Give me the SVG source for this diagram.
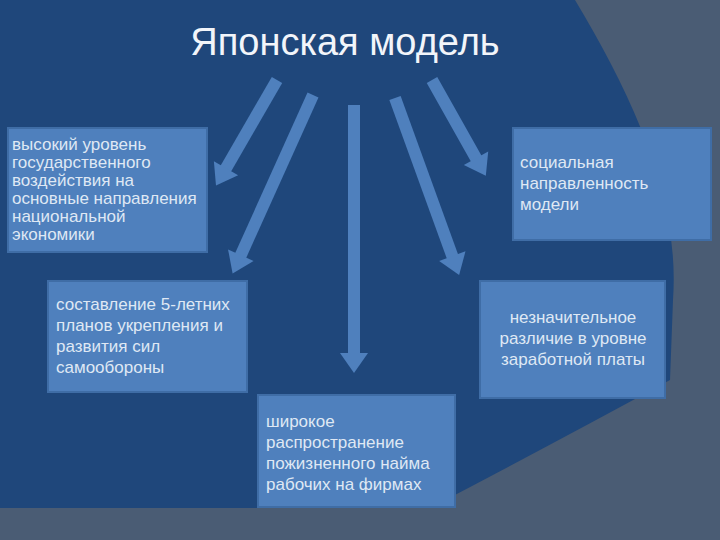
<svg xmlns="http://www.w3.org/2000/svg" width="720" height="540" viewBox="0 0 720 540">
<defs>
<style>
.box{fill:#4f80bd;stroke:#3f6da6;stroke-width:2}
.t{font-family:"Liberation Sans",Arial,sans-serif;font-size:17px;fill:#dfe8f4}
.a{stroke:#4f80bd;stroke-width:12;fill:none;marker-end:url(#ah)}
</style>
<marker id="ah" markerUnits="userSpaceOnUse" markerWidth="32" markerHeight="32" viewBox="0 0 20 32" refX="2" refY="16" orient="auto">
<polygon points="0,2 20,16 0,30" fill="#4f80bd"/>
</marker>
</defs>
<rect width="720" height="540" fill="#4a5c74"/>
<path d="M0,0 H575 C635,100 680,200 673,300 L670,380 Q560,440 430,508 H0 Z" fill="#1f477b"/>
<text x="345" y="55" text-anchor="middle" font-family="Liberation Sans,Arial,sans-serif" font-size="38" fill="#f2f5fa">Японская модель</text>
<g id="connectors">
<line class="a" x1="277" y1="80" x2="225" y2="170"/>
<line class="a" x1="313" y1="95" x2="240" y2="257"/>
<line class="a" x1="354" y1="105" x2="354" y2="355"/>
<line class="a" x1="395" y1="98" x2="453" y2="258"/>
<line class="a" x1="432" y1="80" x2="477" y2="160"/>
</g>
<g id="n1"><rect class="box" x="8" y="128" width="199" height="124"/>
<text class="t" x="12" y="150">высокий уровень</text>
<text class="t" x="12" y="168">государственного</text>
<text class="t" x="12" y="186">воздействия на</text>
<text class="t" x="12" y="204">основные направления</text>
<text class="t" x="12" y="222">национальной</text>
<text class="t" x="12" y="240">экономики</text></g>
<g id="n2"><rect class="box" x="48" y="281" width="199" height="111"/>
<text class="t" x="56" y="310">составление 5-летних</text>
<text class="t" x="56" y="331">планов укрепления и</text>
<text class="t" x="56" y="352">развития сил</text>
<text class="t" x="56" y="373">самообороны</text></g>
<g id="n3"><rect class="box" x="513" y="128" width="198" height="112"/>
<text class="t" x="520" y="168">социальная</text>
<text class="t" x="520" y="189">направленность</text>
<text class="t" x="520" y="210">модели</text></g>
<g id="n4"><rect class="box" x="480" y="281" width="185" height="117"/>
<text class="t" x="573" y="323" text-anchor="middle">незначительное</text>
<text class="t" x="573" y="344" text-anchor="middle">различие в уровне</text>
<text class="t" x="573" y="365" text-anchor="middle">заработной платы</text></g>
<g id="n5"><rect class="box" x="258" y="395" width="197" height="112"/>
<text class="t" x="266" y="427">широкое</text>
<text class="t" x="266" y="448">распространение</text>
<text class="t" x="266" y="469">пожизненного найма</text>
<text class="t" x="266" y="490">рабочих на фирмах</text></g>
</svg>
